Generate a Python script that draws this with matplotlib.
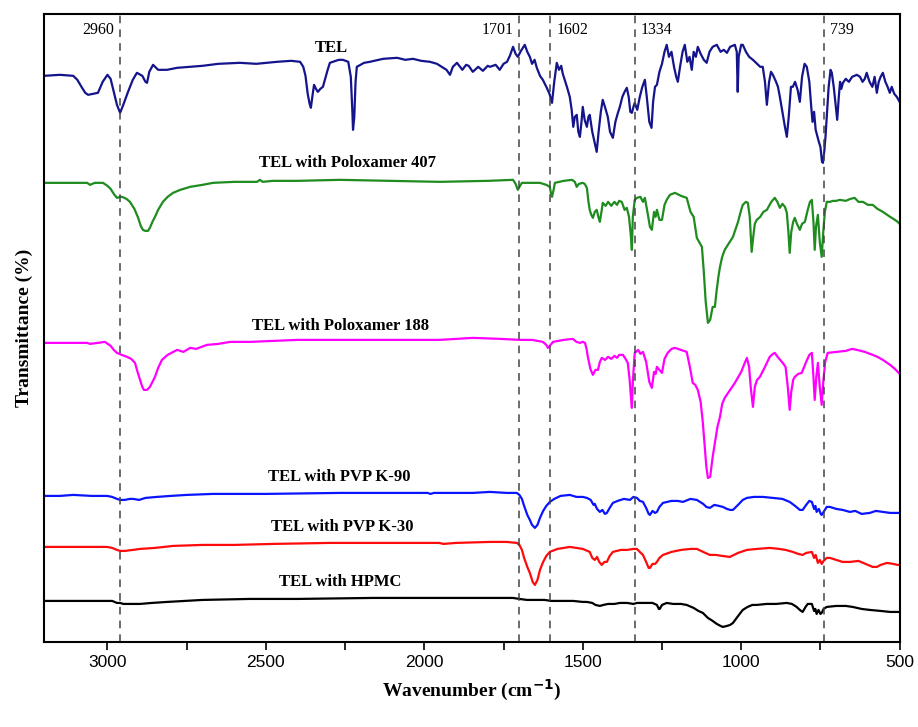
import matplotlib
matplotlib.use("Agg")
import matplotlib.pyplot as plt
from matplotlib.ticker import MultipleLocator

# spectra: (wavenumber cm-1, stacked transmittance a.u.)
tel = [(3200, 566), (3150, 567), (3108, 566), (3095, 562), (3080, 554), (3070, 549), (3061, 547),
       (3045, 548), (3030, 549), (3015, 560), (3000, 567), (2990, 563), (2980, 550), (2970, 537),
       (2960, 529), (2950, 537), (2935, 550), (2920, 562), (2907, 569), (2890, 566), (2880, 560),
       (2875, 559), (2868, 570), (2856, 577), (2840, 572), (2812, 572), (2780, 574), (2739, 575),
       (2700, 576), (2650, 578), (2582, 579), (2530, 578), (2465, 580), (2420, 581), (2392, 580),
       (2382, 575), (2375, 566), (2368, 548), (2362, 538), (2358, 534), (2353, 546), (2348, 557),
       (2342, 553), (2336, 550), (2328, 553), (2320, 555), (2305, 572), (2298, 579), (2270, 582),
       (2257, 582), (2240, 580), (2232, 565), (2227, 530), (2225, 512), (2221, 525), (2217, 560),
       (2213, 575), (2190, 579), (2172, 580), (2130, 583), (2086, 584), (2060, 582), (2036, 583),
       (2010, 581), (1982, 580), (1960, 578), (1940, 574), (1930, 572), (1919, 567), (1910, 575),
       (1897, 579), (1880, 572), (1868, 577), (1860, 576), (1847, 570), (1830, 575), (1815, 571),
       (1800, 576), (1793, 575), (1775, 577), (1762, 572), (1750, 578), (1739, 580), (1730, 586),
       (1720, 595), (1712, 588), (1705, 585), (1695, 591), (1683, 597), (1675, 590), (1667, 585),
       (1660, 578), (1652, 582), (1645, 574), (1635, 566), (1626, 562), (1615, 555), (1605, 548),
       (1597, 539), (1590, 560), (1582, 579), (1575, 572), (1568, 576), (1563, 568), (1555, 560),
       (1550, 555), (1541, 545), (1535, 532), (1530, 515), (1525, 525), (1519, 527), (1514, 510),
       (1509, 505), (1504, 520), (1500, 535), (1494, 522), (1487, 515), (1482, 525), (1478, 527),
       (1470, 510), (1463, 500), (1456, 490), (1450, 510), (1443, 530), (1437, 542), (1430, 535),
       (1421, 525), (1414, 510), (1405, 504), (1397, 520), (1390, 528), (1383, 535), (1375, 545),
       (1368, 550), (1361, 554), (1355, 545), (1350, 530), (1345, 529), (1340, 535), (1336, 539),
       (1328, 532), (1320, 545), (1312, 555), (1304, 562), (1298, 545), (1290, 520), (1283, 514),
       (1278, 540), (1272, 555), (1266, 557), (1258, 570), (1250, 578), (1242, 590), (1235, 597),
       (1228, 585), (1220, 590), (1212, 575), (1205, 565), (1200, 560), (1193, 575), (1185, 590),
       (1178, 597), (1170, 580), (1163, 585), (1156, 572), (1150, 590), (1143, 585), (1137, 595),
       (1128, 588), (1118, 582), (1109, 579), (1100, 590), (1090, 595), (1077, 597), (1065, 590),
       (1055, 592), (1045, 589), (1035, 595), (1020, 597), (1014, 590), (1011, 550), (1008, 585),
       (1000, 597), (995, 597), (985, 590), (975, 585), (963, 582), (950, 578), (940, 575),
       (932, 575), (925, 560), (919, 537), (912, 560), (906, 570), (900, 567), (890, 560),
       (884, 555), (878, 545), (870, 530), (862, 515), (856, 505), (850, 525), (843, 555),
       (837, 555), (830, 560), (822, 552), (815, 540), (808, 565), (800, 578), (793, 575),
       (785, 560), (779, 535), (775, 520), (770, 530), (765, 512), (755, 500), (750, 495),
       (745, 480), (742, 479), (738, 490), (734, 505), (730, 525), (724, 555), (718, 572),
       (714, 569), (708, 555), (703, 540), (697, 522), (692, 545), (688, 560), (684, 553),
       (679, 559), (670, 563), (660, 560), (650, 565), (635, 567), (625, 565), (617, 560),
       (610, 563), (604, 569), (595, 560), (586, 555), (579, 565), (572, 549), (566, 560),
       (560, 565), (553, 569), (545, 560), (538, 555), (531, 549), (525, 555), (517, 548),
       (509, 545), (500, 540)]

p407 = [(3200, 459), (3100, 459), (3064, 459), (3055, 457), (3040, 459), (3014, 459), (3000, 456),
        (2990, 453), (2980, 448), (2970, 444), (2960, 445), (2954, 445), (2940, 443), (2929, 440),
        (2915, 433), (2903, 424), (2895, 416), (2888, 412), (2881, 411), (2872, 411), (2866, 414),
        (2858, 420), (2850, 425), (2840, 432), (2825, 440), (2810, 445), (2793, 449), (2770, 452),
        (2739, 455), (2700, 457), (2667, 459), (2600, 460), (2528, 460), (2519, 462), (2510, 460),
        (2478, 461), (2400, 461), (2266, 462), (2100, 461), (1951, 460), (1800, 461), (1720, 462),
        (1712, 458), (1705, 452), (1698, 456), (1692, 459), (1660, 459), (1635, 459), (1615, 457),
        (1604, 455), (1600, 448), (1597, 445), (1592, 452), (1588, 459), (1560, 461), (1534, 462),
        (1525, 460), (1519, 455), (1512, 458), (1500, 459), (1494, 458), (1487, 454), (1482, 440),
        (1478, 432), (1473, 427), (1468, 424), (1462, 430), (1456, 432), (1450, 424), (1446, 420),
        (1440, 432), (1437, 439), (1428, 436), (1420, 440), (1410, 436), (1400, 440), (1392, 437),
        (1385, 441), (1377, 440), (1368, 432), (1361, 434), (1354, 425), (1348, 405), (1345, 392),
        (1342, 425), (1336, 442), (1329, 444), (1318, 445), (1310, 440), (1304, 444), (1296, 430),
        (1288, 415), (1282, 412), (1275, 430), (1270, 425), (1266, 432), (1258, 422), (1250, 422),
        (1242, 437), (1235, 442), (1225, 447), (1209, 449), (1190, 446), (1172, 444), (1160, 430),
        (1150, 425), (1140, 404), (1133, 400), (1124, 395), (1118, 370), (1112, 340), (1105, 319),
        (1098, 322), (1090, 335), (1083, 335), (1078, 350), (1072, 365), (1067, 375), (1060, 385),
        (1052, 392), (1040, 398), (1026, 405), (1010, 420), (1000, 432), (995, 437), (985, 440),
        (979, 439), (973, 425), (967, 390), (962, 405), (957, 418), (951, 422), (940, 425),
        (930, 430), (919, 432), (905, 440), (894, 444), (886, 440), (878, 434), (870, 438),
        (862, 435), (856, 429), (851, 410), (847, 389), (842, 410), (836, 420), (831, 424),
        (824, 418), (815, 412), (808, 418), (799, 420), (790, 432), (783, 440), (777, 442),
        (772, 420), (768, 392), (764, 415), (758, 427), (752, 400), (746, 385), (741, 410),
        (736, 430), (730, 440), (720, 440), (710, 441), (700, 441), (689, 442), (670, 441),
        (655, 443), (642, 444), (630, 440), (616, 440), (600, 437), (585, 437), (570, 433),
        (553, 430), (530, 425), (515, 422), (506, 420), (500, 418)]

p188 = [(3200, 299), (3100, 299), (3064, 299), (3055, 298), (3030, 299), (3008, 300), (2990, 296),
        (2980, 292), (2970, 289), (2955, 287), (2938, 285), (2925, 283), (2913, 279), (2905, 270),
        (2897, 262), (2890, 255), (2885, 252), (2875, 252), (2866, 255), (2858, 260), (2850, 265),
        (2840, 274), (2828, 282), (2810, 287), (2780, 292), (2760, 290), (2739, 294), (2720, 293),
        (2686, 297), (2650, 298), (2613, 300), (2550, 300), (2478, 301), (2400, 302), (2266, 302),
        (2100, 302), (1951, 302), (1847, 304), (1760, 303), (1698, 302), (1660, 302), (1626, 300),
        (1615, 297), (1610, 294), (1604, 296), (1594, 300), (1560, 302), (1531, 303), (1520, 300),
        (1509, 299), (1500, 300), (1493, 299), (1488, 293), (1484, 285), (1476, 273), (1468, 267),
        (1460, 272), (1452, 272), (1446, 280), (1440, 284), (1430, 282), (1420, 285), (1410, 283),
        (1400, 286), (1392, 284), (1385, 287), (1373, 287), (1365, 283), (1358, 279), (1352, 262),
        (1348, 245), (1345, 234), (1342, 260), (1336, 289), (1325, 292), (1318, 288), (1310, 290),
        (1300, 280), (1290, 260), (1282, 254), (1275, 270), (1270, 268), (1266, 275), (1258, 272),
        (1250, 269), (1242, 283), (1232, 289), (1220, 293), (1209, 294), (1190, 292), (1172, 290),
        (1162, 275), (1153, 259), (1145, 257), (1137, 252), (1128, 240), (1121, 219), (1115, 195),
        (1110, 175), (1105, 164), (1098, 165), (1090, 185), (1083, 199), (1075, 215), (1067, 225),
        (1060, 238), (1052, 244), (1035, 252), (1020, 259), (1000, 270), (990, 278), (982, 284),
        (975, 275), (970, 255), (963, 235), (957, 255), (950, 262), (941, 265), (925, 275),
        (910, 285), (900, 288), (894, 289), (885, 285), (877, 282), (869, 279), (860, 275),
        (853, 255), (847, 232), (842, 250), (836, 262), (831, 265), (820, 268), (809, 269),
        (795, 280), (785, 287), (777, 289), (772, 265), (768, 242), (763, 265), (758, 279),
        (752, 255), (746, 237), (741, 260), (735, 280), (727, 289), (700, 290), (670, 291),
        (650, 293), (635, 292), (610, 290), (585, 287), (570, 285), (553, 282), (530, 277),
        (515, 273), (506, 270), (500, 268)]

k90 = [(3200, 146), (3150, 146), (3108, 147), (3050, 146), (3001, 146), (2985, 145), (2970, 143),
       (2960, 142), (2945, 142), (2930, 143), (2919, 143), (2900, 142), (2880, 144), (2844, 145),
       (2800, 146), (2750, 147), (2667, 148), (2500, 148), (2266, 149), (2100, 149), (1990, 149),
       (1980, 148), (1970, 149), (1847, 149), (1793, 150), (1740, 149), (1708, 149), (1700, 147),
       (1692, 143), (1685, 136), (1675, 127), (1667, 122), (1660, 117), (1651, 114), (1643, 117),
       (1635, 124), (1625, 131), (1615, 136), (1604, 140), (1590, 143), (1570, 146), (1541, 147),
       (1520, 145), (1500, 145), (1487, 144), (1475, 142), (1466, 137), (1462, 138), (1455, 133),
       (1446, 130), (1438, 132), (1430, 128), (1424, 129), (1415, 134), (1405, 139), (1390, 141),
       (1370, 143), (1351, 142), (1340, 145), (1329, 144), (1320, 141), (1310, 140), (1300, 134),
       (1292, 128), (1288, 127), (1280, 131), (1272, 129), (1266, 130), (1258, 135), (1247, 139),
       (1220, 141), (1200, 141), (1184, 140), (1160, 143), (1140, 142), (1120, 138), (1110, 135),
       (1099, 134), (1085, 137), (1070, 136), (1058, 135), (1045, 133), (1035, 132), (1026, 132),
       (1010, 137), (995, 142), (982, 144), (960, 145), (932, 145), (900, 144), (870, 143),
       (847, 140), (830, 136), (815, 132), (806, 132), (795, 137), (785, 141), (777, 140),
       (770, 133), (766, 136), (762, 130), (755, 133), (749, 128), (746, 127), (740, 130),
       (730, 135), (720, 135), (700, 133), (680, 132), (657, 130), (640, 131), (620, 128),
       (594, 129), (575, 131), (553, 130), (530, 129), (506, 129), (500, 129)]

k30 = [(3200, 95), (3100, 95), (3050, 95), (3001, 95), (2985, 94), (2970, 92), (2960, 91),
       (2945, 91), (2920, 92), (2897, 93), (2850, 94), (2793, 96), (2700, 97), (2600, 97),
       (2478, 98), (2300, 99), (2100, 99), (1953, 99), (1940, 98), (1900, 99), (1793, 100),
       (1740, 100), (1708, 99), (1700, 97), (1692, 92), (1685, 84), (1675, 75), (1667, 69),
       (1658, 60), (1651, 57), (1643, 62), (1635, 72), (1625, 80), (1615, 86), (1604, 90),
       (1580, 93), (1560, 94), (1541, 95), (1520, 94), (1500, 93), (1478, 90), (1470, 84),
       (1462, 82), (1455, 85), (1448, 80), (1440, 77), (1432, 80), (1424, 80), (1415, 86),
       (1405, 90), (1380, 92), (1360, 92), (1340, 93), (1329, 93), (1320, 90), (1310, 87),
       (1300, 80), (1292, 74), (1288, 74), (1280, 78), (1272, 78), (1266, 80), (1258, 84),
       (1247, 87), (1220, 90), (1190, 92), (1160, 93), (1140, 93), (1120, 90), (1099, 87),
       (1080, 87), (1060, 86), (1036, 85), (1010, 89), (982, 92), (950, 93), (910, 94),
       (880, 93), (860, 92), (837, 90), (820, 88), (806, 87), (795, 89), (777, 90), (770, 84),
       (765, 87), (758, 79), (752, 82), (746, 78), (740, 81), (730, 84), (720, 84), (700, 82),
       (680, 80), (657, 80), (630, 81), (600, 77), (585, 75), (572, 75), (560, 77), (540, 79),
       (520, 78), (506, 77), (500, 77)]

hpmc = [(3200, 41), (3100, 41), (3001, 41), (2985, 41), (2970, 39), (2960, 39), (2950, 38),
        (2930, 38), (2897, 38), (2860, 39), (2812, 40), (2700, 42), (2550, 43), (2400, 43),
        (2162, 44), (2000, 44), (1793, 44), (1720, 44), (1700, 43), (1676, 42), (1620, 42),
        (1600, 41), (1572, 41), (1530, 41), (1500, 40), (1487, 40), (1470, 39), (1460, 37),
        (1446, 36), (1435, 37), (1420, 38), (1400, 38), (1383, 39), (1360, 39), (1340, 38),
        (1329, 39), (1300, 39), (1280, 39), (1266, 37), (1260, 33), (1257, 33), (1250, 37),
        (1235, 39), (1215, 38), (1190, 38), (1172, 37), (1150, 34), (1135, 31), (1121, 29),
        (1105, 24), (1090, 21), (1077, 18), (1065, 16), (1058, 15), (1045, 16), (1035, 17),
        (1026, 19), (1012, 25), (1000, 30), (995, 32), (980, 35), (965, 37), (951, 37),
        (920, 38), (890, 38), (856, 39), (840, 38), (825, 35), (815, 32), (806, 30), (797, 35),
        (790, 38), (777, 38), (770, 31), (766, 33), (762, 28), (756, 32), (750, 28), (746, 29),
        (740, 33), (730, 35), (700, 36), (670, 36), (648, 35), (620, 33), (594, 32), (560, 31),
        (530, 30), (506, 30), (500, 30)]

labels = ["TEL", "TEL with Poloxamer 407", "TEL with Poloxamer 188",
          "TEL with PVP K-90", "TEL with PVP K-30", "TEL with HPMC"]
label_wn = [2295, 2241, 2266, 2269, 2260, 2266]
label_t = [594, 479, 316, 165, 115, 60]
colors = ["#14148c", "#1e8c1e", "#ff00ff", "#0a14ff", "#ff0a0a", "#000000"]

peak_wn = [2960, 1701, 1602, 1334, 739]
peak_text = ["2960", "1701", "1602", "1334", "739"]
peak_side = ["left", "left", "right", "right", "right"]

fig = plt.figure(figsize=(9.18, 7.27), dpi=100)
ax = fig.add_axes([0.048, 0.117, 0.932, 0.864])

for spec, c in zip([tel, p407, p188, k90, k30, hpmc], colors):
    wn, t = zip(*spec)
    ax.plot(wn, t, color=c, lw=1.6)

for lab, x, y in zip(labels, label_wn, label_t):
    ax.text(x, y, lab, ha="center", va="center", fontsize=12, fontweight="bold",
            family="Liberation Serif")

for w, s, side in zip(peak_wn, peak_text, peak_side):
    ax.axvline(w, color="#444444", lw=1.1, ls=(0, (5, 4)))
    if side == "left":
        ax.text(w + 18, 612, s, ha="right", va="center", fontsize=11.5, family="Liberation Serif")
    else:
        ax.text(w - 18, 612, s, ha="left", va="center", fontsize=11.5, family="Liberation Serif")

ax.set_xlim(3200, 500)
ax.set_ylim(0, 628)
ax.set_yticks([])
ax.xaxis.set_major_locator(MultipleLocator(500))
ax.xaxis.set_minor_locator(MultipleLocator(250))
ax.tick_params(axis="x", which="both", direction="out", length=6, width=1.2, labelsize=12.5)
for lab in ax.get_xticklabels():
    lab.set_family("Liberation Sans")
for sp in ax.spines.values():
    sp.set_linewidth(1.5)

ax.set_xlabel("Wavenumber (cm$^{\\mathbf{-1}}$)", fontsize=14, fontweight="bold",
              family="Liberation Serif", labelpad=6)
ax.set_ylabel("Transmittance (%)", fontsize=14, fontweight="bold",
              family="Liberation Serif", labelpad=8)

fig.savefig("out.png", dpi=100)
